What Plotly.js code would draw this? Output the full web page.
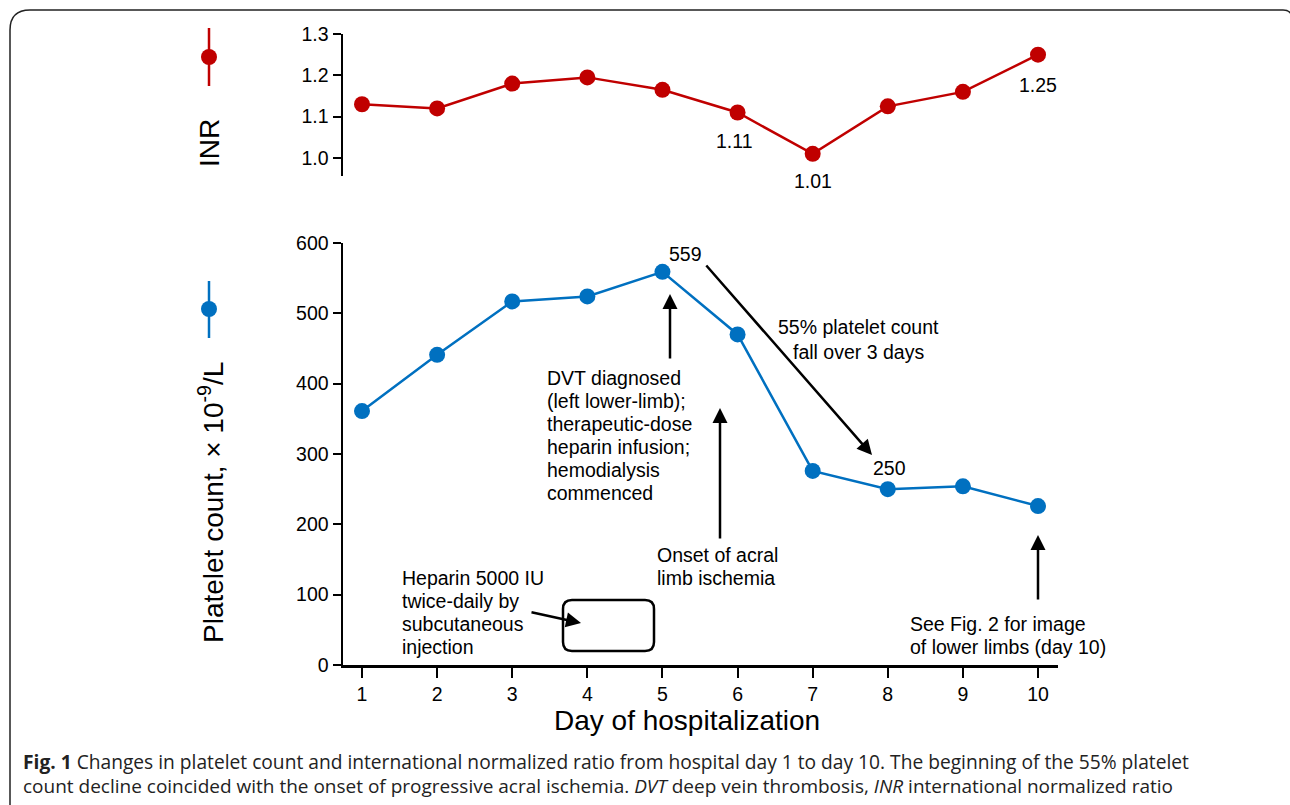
<!DOCTYPE html>
<html>
<head>
<meta charset="utf-8">
<script src="https://cdn.plot.ly/plotly-3.0.1.min.js"></script>
<style>
html,body{margin:0;padding:0;background:#fff;}
#chart{width:1290px;height:805px;}
</style>
</head>
<body>
<div id="chart"></div>
<script>
// ---- data ----
const days = [1, 2, 3, 4, 5, 6, 7, 8, 9, 10];
const inrValues = [1.13, 1.12, 1.18, 1.195, 1.165, 1.11, 1.01, 1.125, 1.16, 1.25];
const plateletValues = [361, 441, 517, 524, 559, 470, 276, 250, 254, 226];
const xTickLabels = ['1', '2', '3', '4', '5', '6', '7', '8', '9', '10'];
const inrTicks = [1.0, 1.1, 1.2, 1.3];
const plateletTicks = [0, 100, 200, 300, 400, 500, 600];

const W = 1290, H = 805;
const px = x => x / W;
const py = y => 1 - y / H;

const RED = '#c00000';
const BLUE = '#0070c0';
const FONT = 'Liberation Sans, Arial, sans-serif';
const CAPFONT = 'Open Sans, sans-serif';
const FS = 19.5;

const traces = [
  {
    x: days, y: plateletValues, xaxis: 'x', yaxis: 'y', type: 'scatter', mode: 'lines+markers',
    line: {color: BLUE, width: 2.5}, marker: {color: BLUE, size: 16}, hoverinfo: 'x+y', showlegend: false
  },
  {
    x: days, y: inrValues, xaxis: 'x2', yaxis: 'y2', type: 'scatter', mode: 'lines+markers',
    line: {color: RED, width: 2.5}, marker: {color: RED, size: 16}, hoverinfo: 'x+y', showlegend: false
  }
];

const txt = (text, x, y, opts) => Object.assign({
  text: text, xref: 'paper', yref: 'paper', x: px(x), y: py(y), showarrow: false,
  font: {family: FONT, size: FS, color: '#000'}, xanchor: 'left', yanchor: 'middle', align: 'left'
}, opts || {});

// multi-line block with fixed line spacing
const block = (lines, x, y0, step, opts) => lines.map((l, i) => txt(l, x, y0 + i * step, opts));

const arrow = (x0, y0, x1, y1) => ({
  text: '', xref: 'paper', yref: 'paper', x: px(x1), y: py(y1),
  axref: 'pixel', ayref: 'pixel', ax: x0 - x1, ay: y0 - y1,
  showarrow: true, arrowhead: 2, arrowsize: 1.2, arrowwidth: 2.5, arrowcolor: '#000', standoff: 0, startstandoff: 0
});

const valLabel = (text, xa, ya, x, y, xs, ys) => ({
  text: text, xref: xa, yref: ya, x: x, y: y, xshift: xs, yshift: ys, showarrow: false,
  font: {family: FONT, size: FS, color: '#000'}
});

const annotations = [].concat(
  [
    valLabel('1.11', 'x2', 'y2', days[5], inrValues[5], -3, -28),
    valLabel('1.01', 'x2', 'y2', days[6], inrValues[6], 0, -27),
    valLabel('1.25', 'x2', 'y2', days[9], inrValues[9], 0, -30),
    valLabel('559', 'x', 'y', days[4], plateletValues[4], 23, 18),
    valLabel('250', 'x', 'y', days[7], plateletValues[7], 2, 21)
  ],
  block(['55% platelet count', 'fall over 3 days'], 858, 327, 25, {xanchor: 'center', align: 'center'}),
  block(['DVT diagnosed', '(left lower-limb);', 'therapeutic-dose', 'heparin infusion;', 'hemodialysis', 'commenced'], 545, 378, 23),
  block(['Onset of acral', 'limb ischemia'], 655, 555, 23),
  block(['See Fig. 2 for image', 'of lower limbs (day 10)'], 908, 624, 23),
  block(['Heparin 5000 IU', 'twice-daily by', 'subcutaneous', 'injection'], 400, 578, 23),
  [
    arrow(705, 264, 872, 455),
    arrow(670, 360, 670, 294),
    arrow(720, 540, 720, 408),
    arrow(1038, 601, 1038, 535),
    arrow(530, 612, 581, 623),
    txt('INR', 210, 143, {textangle: -90, xanchor: 'center', font: {family: FONT, size: 28, color: '#000'}}),
    txt('Platelet count, × 10<sup>-9</sup>/L', 211, 503, {textangle: -90, xanchor: 'center', font: {family: FONT, size: 28, color: '#000'}}),
    txt('Day of hospitalization', 687, 720, {xanchor: 'center', font: {family: FONT, size: 28, color: '#000'}}),
    txt('<b>Fig. 1</b> Changes in platelet count and international normalized ratio from hospital day 1 to day 10. The beginning of the 55% platelet', 21, 761, {font: {family: CAPFONT, size: 19.2, color: '#222'}}),
    txt('count decline coincided with the onset of progressive acral ischemia. <i>DVT</i> deep vein thrombosis, <i>INR</i> international normalized ratio', 21, 786, {font: {family: CAPFONT, size: 19, color: '#222'}})
  ]
);

// rounded rectangle helper in paper coords
function roundRect(x0, y0, x1, y1, r) {
  const P = (x, y) => px(x) + ',' + py(y);
  return 'M' + P(x0 + r, y0) + ' L' + P(x1 - r, y0) + ' Q' + P(x1, y0) + ' ' + P(x1, y0 + r) +
    ' L' + P(x1, y1 - r) + ' Q' + P(x1, y1) + ' ' + P(x1 - r, y1) +
    ' L' + P(x0 + r, y1) + ' Q' + P(x0, y1) + ' ' + P(x0, y1 - r) +
    ' L' + P(x0, y0 + r) + ' Q' + P(x0, y0) + ' ' + P(x0 + r, y0) + ' Z';
}
function framePath() {
  const P = (x, y) => px(x) + ',' + py(y);
  return 'M' + P(10, 806) + ' L' + P(10, 30) + ' Q' + P(10, 10) + ' ' + P(30, 10) +
    ' L' + P(1283, 10) + ' Q' + P(1289, 10) + ' ' + P(1291, 14);
}

const shapes = [
  {type: 'path', xref: 'paper', yref: 'paper', path: framePath(), line: {color: '#222', width: 1.5}},
  {type: 'path', xref: 'paper', yref: 'paper', path: roundRect(563, 600, 654, 651, 9), line: {color: '#000', width: 2.5}},
  // legend glyphs
  {type: 'line', xref: 'paper', yref: 'paper', x0: px(209), x1: px(209), y0: py(28), y1: py(86), line: {color: RED, width: 2.5}},
  {type: 'circle', xref: 'paper', yref: 'paper', x0: px(201), x1: px(217), y0: py(49), y1: py(65), fillcolor: RED, line: {color: RED, width: 0}},
  {type: 'line', xref: 'paper', yref: 'paper', x0: px(209), x1: px(209), y0: py(281), y1: py(338), line: {color: BLUE, width: 2.5}},
  {type: 'circle', xref: 'paper', yref: 'paper', x0: px(201), x1: px(217), y0: py(301), y1: py(317), fillcolor: BLUE, line: {color: BLUE, width: 0}}
];

const axisCommon = {
  showgrid: false, zeroline: false, showline: true, linecolor: '#000', linewidth: 2.5,
  ticks: 'outside', tickcolor: '#000', tickwidth: 2, tickfont: {family: FONT, size: 19.5, color: '#000'}
};

const layout = {
  width: W, height: H,
  margin: {l: 0, r: 0, t: 0, b: 0},
  paper_bgcolor: '#fff', plot_bgcolor: 'rgba(0,0,0,0)',
  showlegend: false,
  xaxis: Object.assign({}, axisCommon, {
    domain: [px(343), px(1058)], range: [0.747, 10.266], anchor: 'y',
    tickvals: days, ticktext: xTickLabels, ticklen: 10
  }),
  yaxis: Object.assign({}, axisCommon, {
    domain: [py(665), py(243)], range: [0, 600], anchor: 'x',
    tickvals: plateletTicks, ticklen: 8
  }),
  xaxis2: {
    domain: [px(343), px(1058)], range: [0.747, 10.266], anchor: 'y2', matches: 'x',
    visible: false, showgrid: false, zeroline: false
  },
  yaxis2: Object.assign({}, axisCommon, {
    domain: [py(176), py(34)], range: [0.9564, 1.3], anchor: 'x2',
    tickvals: inrTicks, tickformat: '.1f', ticklen: 8
  }),
  annotations: annotations,
  shapes: shapes
};

Plotly.newPlot('chart', traces, layout, {displayModeBar: false, staticPlot: true});
</script>
</body>
</html>
